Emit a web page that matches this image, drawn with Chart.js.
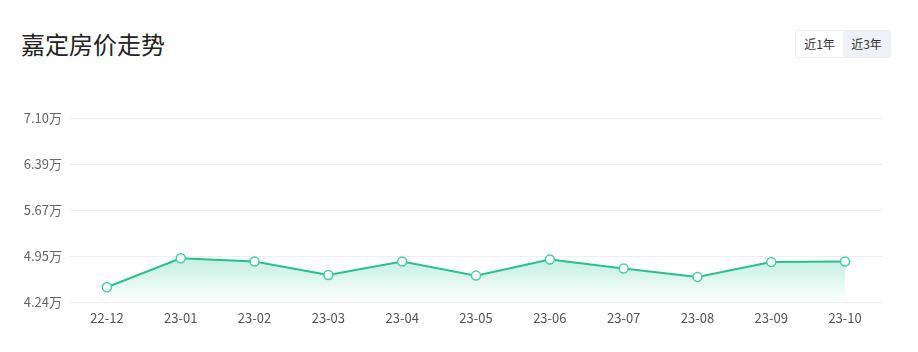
<!DOCTYPE html>
<html>
<head>
<meta charset="utf-8">
<script src="https://cdn.jsdelivr.net/npm/chart.js@4/dist/chart.umd.min.js"></script>
<style>
  html, body { margin:0; padding:0; background:#fff; }
  #wrap { position:relative; width:918px; height:352px; overflow:hidden; font-family:"Noto Sans CJK SC","Noto Sans",sans-serif; }
  #title { position:absolute; left:21px; top:28px; font-size:24px; color:#222; line-height:32px; }
  #btns { position:absolute; left:795px; top:30px; width:96px; height:28px; display:flex; border:1px solid #eceff3; box-sizing:border-box; border-radius:2px; }
  #btns div { flex:1; font-size:12px; color:#333; text-align:center; line-height:26px; }
  #btns .on { background:#eef1f5; }
  canvas { position:absolute; left:0; top:0; }
</style>
</head>
<body>
<div id="wrap">
  <div id="title">嘉定房价走势</div>
  <div id="btns"><div>近1年</div><div class="on">近3年</div></div>
  <canvas id="c" width="918" height="352"></canvas>
</div>
<script>
const categories = ["22-12","23-01","23-02","23-03","23-04","23-05","23-06","23-07","23-08","23-09","23-10"];
const prices = [4.47, 4.92, 4.87, 4.66, 4.87, 4.65, 4.90, 4.76, 4.63, 4.86, 4.87];
const yTicks = [4.24, 4.955, 5.67, 6.385, 7.10];
const yTickLabels = ["4.24万", "4.95万", "5.67万", "6.39万", "7.10万"];

const ctx = document.getElementById('c');
new Chart(ctx, {
  type: 'line',
  data: {
    labels: categories,
    datasets: [{
      data: prices,
      borderColor: '#20c58c',
      borderWidth: 2,
      tension: 0,
      fill: 'start',
      backgroundColor: (c) => {
        const area = c.chart.chartArea;
        if (!area) return 'rgba(32,197,140,0.2)';
        const g = c.chart.ctx.createLinearGradient(0, 250, 0, area.bottom);
        g.addColorStop(0, 'rgba(32,197,140,0.32)');
        g.addColorStop(1, 'rgba(32,197,140,0.0)');
        return g;
      },
      pointRadius: 4.5,
      pointBackgroundColor: '#fff',
      pointBorderColor: '#3fd49e',
      pointBorderWidth: 1.5
    }]
  },
  options: {
    responsive: false,
    animation: false,
    layout: { padding: { top: 118, right: 36, left: 0, bottom: 0 } },
    plugins: { legend: { display: false }, tooltip: { enabled: false } },
    scales: {
      x: {
        offset: true,
        grid: { display: false, drawTicks: false },
        border: { display: false },
        ticks: { color: '#555', font: { size: 13, family: '"Noto Sans CJK SC","Noto Sans",sans-serif' }, padding: 8, maxRotation: 0 },
        afterFit: (s) => { s.height = 50; }
      },
      y: {
        min: yTicks[0],
        max: yTicks[yTicks.length - 1],
        afterBuildTicks: (s) => { s.ticks = yTicks.map(v => ({ value: v })); },
        grid: { color: '#eeeff2', drawTicks: false },
        border: { display: false },
        ticks: {
          color: '#666',
          font: { size: 13, family: '"Noto Sans CJK SC","Noto Sans",sans-serif' },
          padding: 8,
          callback: (v, i) => yTickLabels[i]
        },
        afterFit: (s) => { s.width = 70; }
      }
    }
  }
});
</script>
</body>
</html>
